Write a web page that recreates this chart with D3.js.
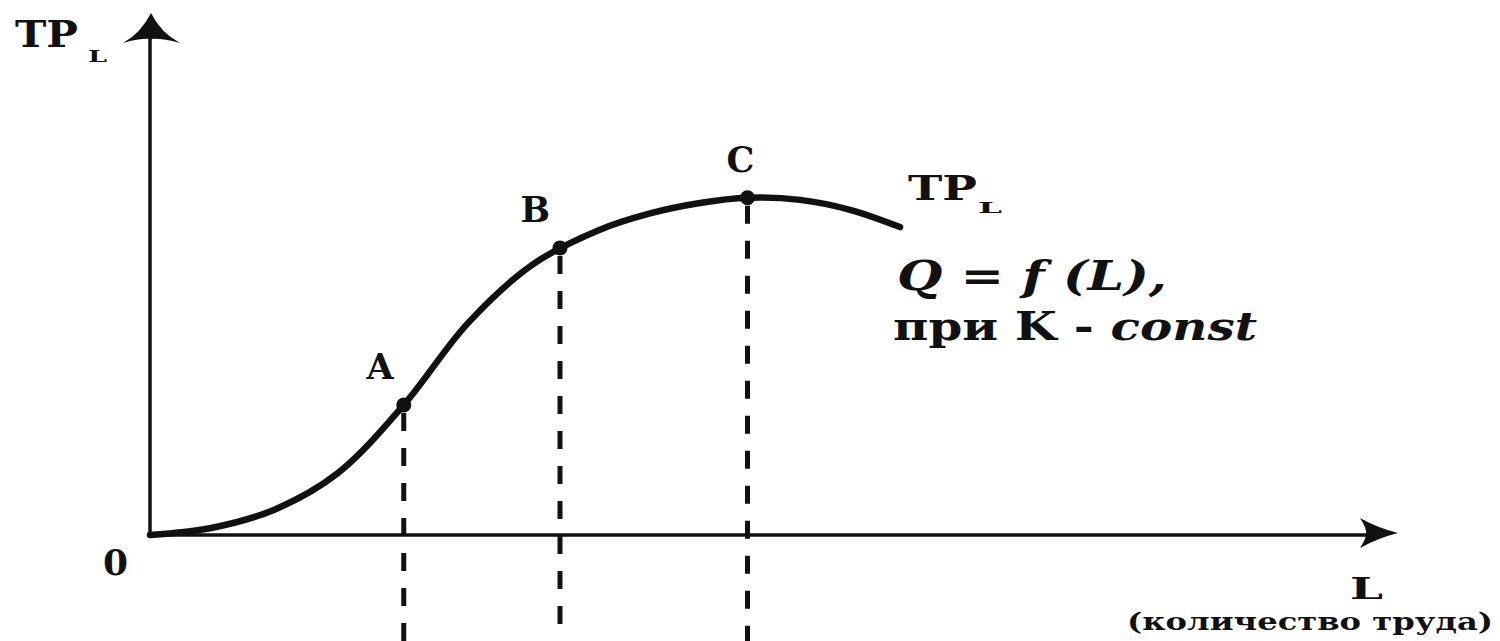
<!DOCTYPE html>
<html>
<head>
<meta charset="utf-8">
<script src="https://cdn.jsdelivr.net/npm/d3@7"></script>
<style>
  body { margin: 0; background: #fff; }
  text { font-family: "DejaVu Serif", "Liberation Serif", serif; font-weight: bold; fill: #111; }
</style>
</head>
<body>
<script>
// curve TP_L = f(L) (arbitrary units)
const curveL = [0, 5, 10, 15, 20.3, 25.4, 30.6, 35.8, 40, 44, 47.8, 52, 56, 60];
const curveQ = [0, 1.4, 4.9, 11.8, 24.9, 40.5, 51.8, 58.3, 61.6, 63.6, 64.6, 64.2, 62.3, 59];

// marked points
const pointNames = ["A", "B", "C"];
const pointL = [20.3, 32.8, 47.8];
const pointQ = [24.9, 55, 64.6];

function main() {
    const width = 1500, height = 641;

    let svg = d3.select("body").append("svg")
        .attr("width", width)
        .attr("height", height);

    let xScale = d3.scaleLinear().domain([0, 100]).range([150, 1400]);
    let yScale = d3.scaleLinear().domain([0, 100]).range([535, 13]);

    const x0 = xScale(0), y0 = yScale(0);
    const xEnd = xScale(100), yEnd = yScale(100);

    // axes
    svg.append("line")
        .attr("x1", x0).attr("y1", y0)
        .attr("x2", x0).attr("y2", yEnd + 25)
        .attr("stroke", "#111").attr("stroke-width", 3.5);
    svg.append("line")
        .attr("x1", x0 - 2).attr("y1", y0)
        .attr("x2", xEnd - 30).attr("y2", y0)
        .attr("stroke", "#111").attr("stroke-width", 3.5);

    // arrow heads
    svg.append("path")
        .attr("transform", `translate(${x0 + 1},${yEnd})`)
        .attr("d", "M0,0 Q10,20 29,30 Q10,25 0,26 Q-10,25 -28,30 Q-10,20 0,0 Z")
        .attr("fill", "#111");
    svg.append("path")
        .attr("transform", `translate(${xEnd - 2},${y0 - 2})`)
        .attr("d", "M0,0 Q-20,5 -38,15 Q-31,4 -32,0 Q-31,-4 -38,-15 Q-20,-5 0,0 Z")
        .attr("fill", "#111");

    // drop lines
    svg.selectAll(".drop")
        .data(pointL)
        .enter()
        .append("line")
        .attr("class", "drop")
        .attr("x1", d => xScale(d))
        .attr("x2", d => xScale(d))
        .attr("y1", (d, i) => yScale(pointQ[i]) + 8)
        .attr("y2", height)
        .attr("stroke", "#111")
        .attr("stroke-width", 5)
        .attr("stroke-dasharray", "18,17");

    // the curve
    let line = d3.line()
        .x(d => xScale(d[0]))
        .y(d => yScale(d[1]))
        .curve(d3.curveCatmullRom.alpha(0.5));

    svg.append("path")
        .datum(curveL.map((l, i) => [l, curveQ[i]]))
        .attr("d", line)
        .attr("fill", "none")
        .attr("stroke", "#111")
        .attr("stroke-width", 6.5)
        .attr("stroke-linecap", "round");

    // points
    svg.selectAll(".pt")
        .data(pointL)
        .enter()
        .append("circle")
        .attr("class", "pt")
        .attr("cx", d => xScale(d))
        .attr("cy", (d, i) => yScale(pointQ[i]))
        .attr("r", 7.5)
        .attr("fill", "#111");

    svg.selectAll(".ptlabel")
        .data(pointNames)
        .enter()
        .append("text")
        .attr("class", "ptlabel")
        .attr("x", (d, i) => xScale(pointL[i]) + (i < 2 ? -10 : -7))
        .attr("y", (d, i) => yScale(pointQ[i]) - 26)
        .attr("text-anchor", (d, i) => i < 2 ? "end" : "middle")
        .style("font-size", "35px")
        .text(d => d);

    // axis labels
    svg.append("text")
        .attr("x", 15).attr("y", 47)
        .attr("textLength", 63).attr("lengthAdjust", "spacingAndGlyphs")
        .style("font-size", "38px")
        .text("TP");
    svg.append("text")
        .attr("x", 88).attr("y", 62)
        .attr("textLength", 19).attr("lengthAdjust", "spacingAndGlyphs")
        .style("font-size", "17px")
        .text("L");

    svg.append("text")
        .attr("x", 103).attr("y", 575)
        .style("font-size", "36px")
        .text("0");

    svg.append("text")
        .attr("x", 1350).attr("y", 599)
        .attr("textLength", 33).attr("lengthAdjust", "spacingAndGlyphs")
        .style("font-size", "29px")
        .text("L");
    svg.append("text")
        .attr("x", 1127).attr("y", 630)
        .attr("textLength", 366).attr("lengthAdjust", "spacingAndGlyphs")
        .style("font-size", "24px")
        .text("(количество труда)");

    // curve labels
    svg.append("text")
        .attr("x", 908).attr("y", 200)
        .attr("textLength", 69).attr("lengthAdjust", "spacingAndGlyphs")
        .style("font-size", "34px")
        .text("TP");
    svg.append("text")
        .attr("x", 978).attr("y", 213)
        .attr("textLength", 24).attr("lengthAdjust", "spacingAndGlyphs")
        .style("font-size", "14px")
        .text("L");

    svg.append("text")
        .attr("x", 897).attr("y", 290)
        .attr("textLength", 270).attr("lengthAdjust", "spacingAndGlyphs")
        .style("font-size", "41px")
        .style("font-style", "italic")
        .text("Q = f (L),");

    let cond = svg.append("text")
        .attr("x", 893).attr("y", 340)
        .attr("textLength", 364).attr("lengthAdjust", "spacingAndGlyphs")
        .style("font-size", "40px");
    cond.append("tspan").text("при K - ");
    cond.append("tspan").style("font-style", "italic").text("const");
}

main()
</script>
</body>
</html>
